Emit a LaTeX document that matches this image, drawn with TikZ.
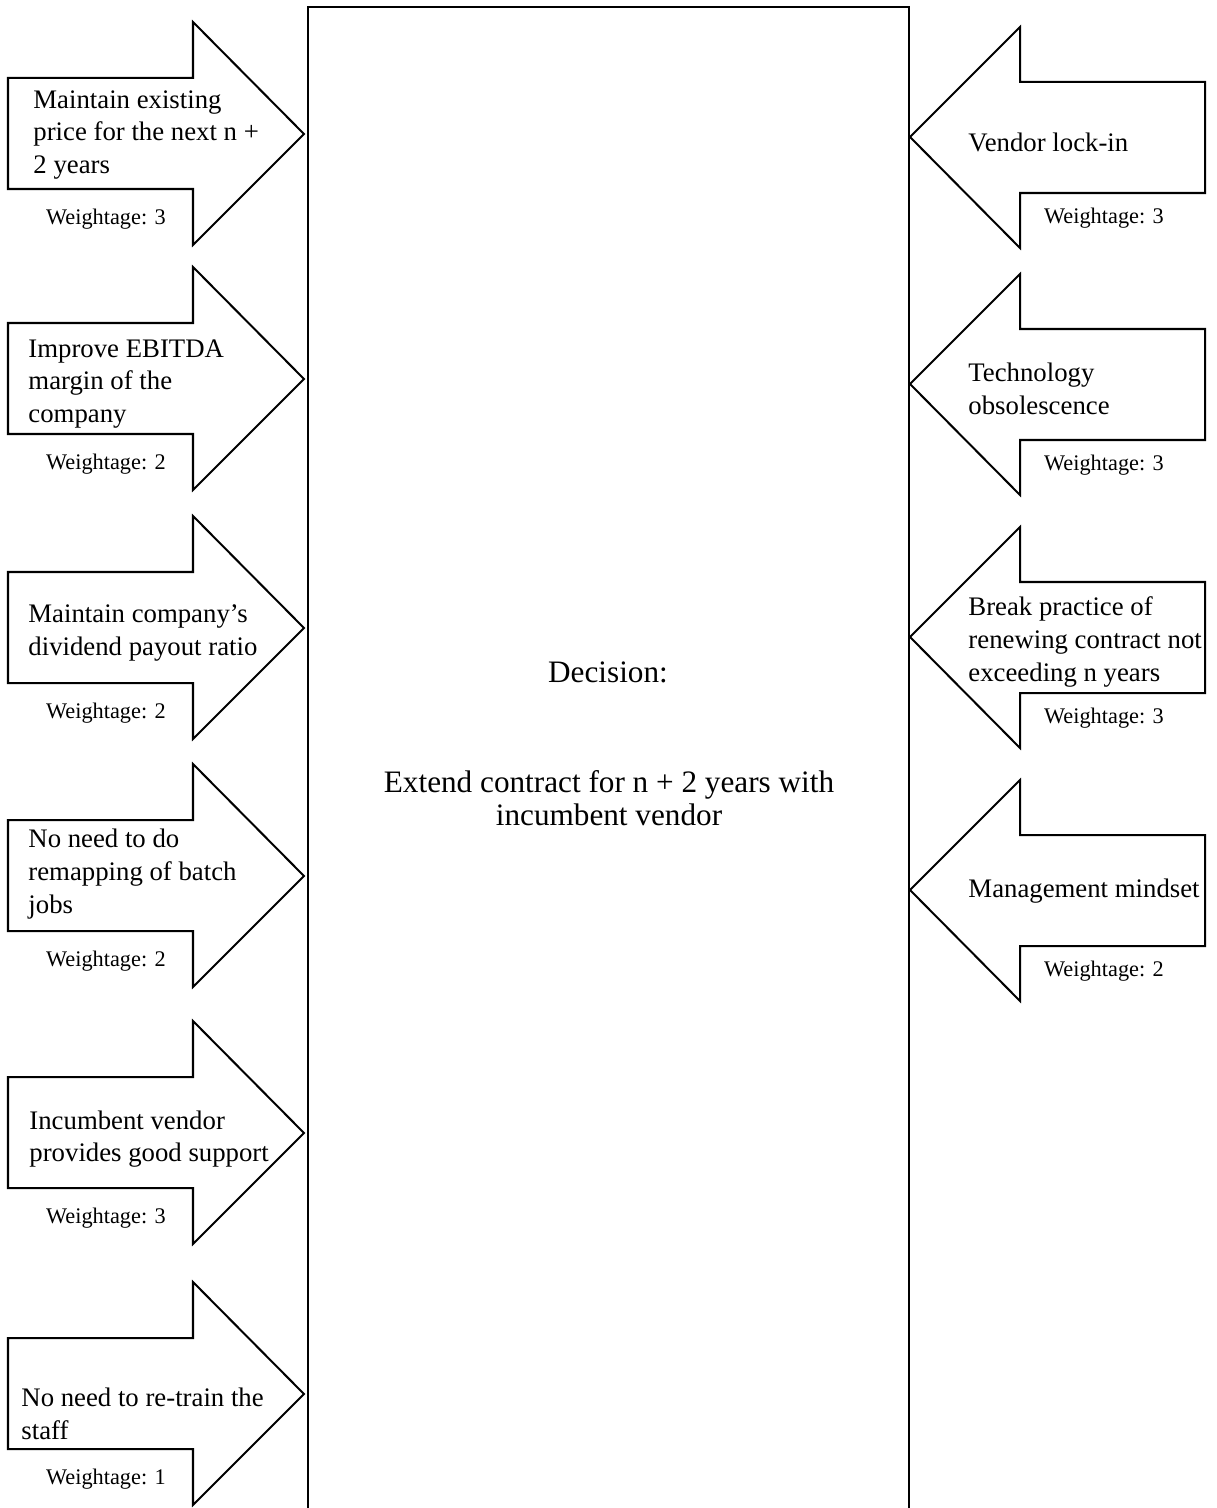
\documentclass[tikz,border=0pt]{standalone}
\usepackage{fontspec}
\setmainfont{Liberation Serif}

\begin{document}
\begin{tikzpicture}[x=0.4484pt, y=-0.4484pt,
        force/.style={draw=black, line width=0.9pt, fill=white, line join=miter},
        forcetext/.style={anchor=west, align=left, inner sep=0pt,
            font=\fontsize{12}{14.7}\selectfont},
        weight/.style={inner sep=0pt, font=\fontsize{10}{12}\selectfont},
        decisiontext/.style={align=center, inner sep=0pt,
            font=\fontsize{14}{14.6}\selectfont}]

                \clip (0,0) rectangle (1216,1508);

                %----- DECISION BOX -----
                \draw[line width=0.9pt] (308,7) rectangle (909,1540);
                \node[decisiontext] (decision) at (608,672) {Decision:};
                \node[decisiontext] (extend) at (609,798)
                    {Extend contract for n + 2 years with\\incumbent vendor};

                %----- DRIVING FORCES (LEFT, POINTING RIGHT) -----
                % centre of arrow / text x / text y / name / text / weightage
                \foreach \c/\tx/\ty/\name/\txt/\w in {
                    134/33/135/keepprice/{Maintain existing\\price for the next n +\\2 years}/3,
                    379/28/384/ebitda/{Improve EBITDA\\margin of the\\company}/2,
                    628/28/633/dividend/{Maintain company’s\\dividend payout ratio}/2,
                    876/28/874/remap/{No need to do\\remapping of batch\\jobs}/2,
                    1133/29/1139/support/{Incumbent vendor\\provides good support}/3,
                    1394/21/1414/retrain/{No need to re-train the\\staff}/1}
                {
                    \draw[force] (8,\c-56) -- (193,\c-56) -- (193,\c-112)
                        -- (304,\c) -- (193,\c+111) -- (193,\c+55)
                        -- (8,\c+55) -- cycle;
                    \node[forcetext] (\name) at (\tx,\ty) {\txt};
                    \node[weight] (\name-w) at (106,\c+85) {Weightage: \w};
                }

                %----- RESTRAINING FORCES (RIGHT, POINTING LEFT) -----
                \foreach \c/\ty/\name/\txt/\w in {
                    137/142/lockin/{Vendor lock-in}/3,
                    384/389/obsolete/{Technology\\obsolescence}/3,
                    637/642/practice/{Break practice of\\renewing contract not\\exceeding n years}/3,
                    890/891/mindset/{Management mindset}/2}
                {
                    \draw[force] (1205,\c-55) -- (1020,\c-55) -- (1020,\c-110)
                        -- (910,\c) -- (1020,\c+111) -- (1020,\c+56)
                        -- (1205,\c+56) -- cycle;
                    \node[forcetext] (\name) at (968,\ty) {\txt};
                    \node[weight] (\name-w) at (1104,\c+81) {Weightage: \w};
                }

\end{tikzpicture}
\end{document}
